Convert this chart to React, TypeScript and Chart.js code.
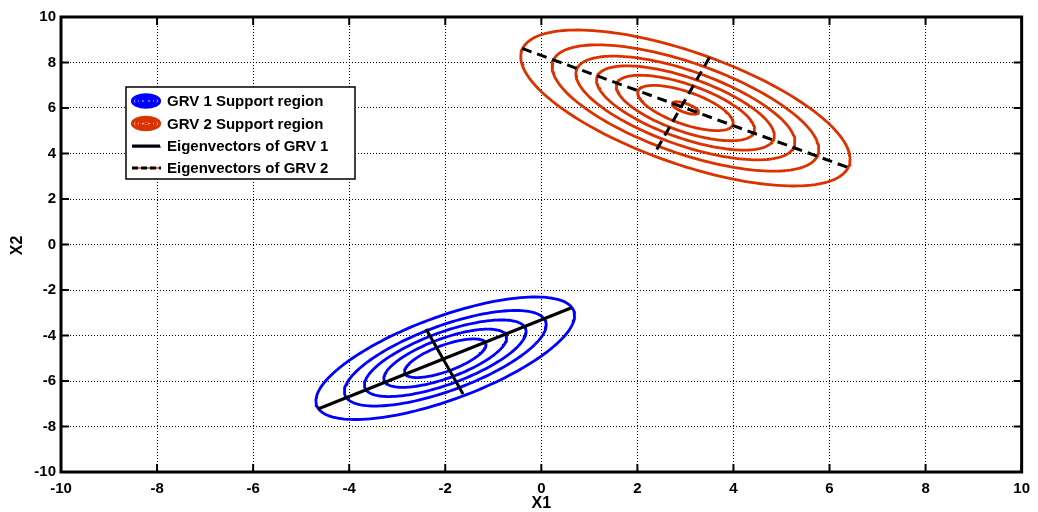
import { useEffect, useRef } from "react";
import { Chart, registerables } from "chart.js";

Chart.register(...registerables);

const FONT = '"Liberation Sans", Arial, Helvetica, sans-serif';

// Axis range shared by X1 and X2
const axisMin = -10;
const axisMax = 10;
const tickStep = 2;
const tickValues = [-10, -8, -6, -4, -2, 0, 2, 4, 6, 8, 10];

// GRV 1 support region: centre, half-axis vectors of the outer contour, relative size of each contour
const grv1Center = [-2, -5];
const grv1MajorAxis = [2.48, 2.48];
const grv1MinorAxis = [1.05, -1.05];
const grv1Levels = [1, 0.78, 0.625, 0.475, 0.315];

// GRV 2 support region
const grv2Center = [3, 6];
const grv2MajorAxis = [3.12, -3.12];
const grv2MinorAxis = [1.42, 1.42];
const grv2Levels = [1, 0.81, 0.665, 0.54, 0.42, 0.29, 0.08];

// Eigenvector segments (end points in X1/X2 units)
const grv1EigMajor = [[-4.65, -7.23], [0.63, -2.78]];
const grv1EigMinor = [[-2.4, -3.71], [-1.63, -6.57]];
const grv2EigMajor = [[-0.4, 8.62], [6.39, 3.38]];
const grv2EigMinor = [[3.5, 8.22], [2.35, 3.98]];

const legendLabels = [
  "GRV 1 Support region",
  "GRV 2 Support region",
  "Eigenvectors of GRV 1",
  "Eigenvectors of GRV 2",
];

const BLUE = "#0000ff";
const RED = "#db3300";

function contour(center: number[], major: number[], minor: number[], s: number) {
  const pts: { x: number; y: number }[] = [];
  const n = 160;
  for (let i = 0; i <= n; i++) {
    const t = (i / n) * Math.PI * 2;
    const c = Math.cos(t);
    const sn = Math.sin(t);
    pts.push({
      x: center[0] + s * (c * major[0] + sn * minor[0]),
      y: center[1] + s * (c * major[1] + sn * minor[1]),
    });
  }
  return pts;
}

function segment(p: number[][]) {
  return p.map(([x, y]) => ({ x, y }));
}

function drawRings(ctx: CanvasRenderingContext2D, cx: number, cy: number, color: string) {
  ctx.strokeStyle = color;
  ctx.lineWidth = 3.2;
  for (const rx of [13.5, 9.5, 5.8]) {
    ctx.beginPath();
    ctx.ellipse(cx, cy, rx, rx * 0.45, 0, 0, Math.PI * 2);
    ctx.stroke();
  }
  ctx.lineWidth = 2.2;
  ctx.beginPath();
  ctx.moveTo(cx - 2.5, cy);
  ctx.lineTo(cx + 2.5, cy);
  ctx.stroke();
}

const framePlugin = {
  id: "frame",
  afterDraw(chart: any) {
    const { ctx, chartArea: a, scales } = chart;
    const xs = scales.x;
    const ys = scales.y;
    ctx.save();

    // inward tick marks on all four sides
    ctx.strokeStyle = "#000";
    ctx.lineWidth = 2;
    ctx.setLineDash([]);
    ctx.beginPath();
    for (const v of tickValues) {
      const px = xs.getPixelForValue(v);
      ctx.moveTo(px, a.bottom);
      ctx.lineTo(px, a.bottom - 8);
      ctx.moveTo(px, a.top);
      ctx.lineTo(px, a.top + 8);
      const py = ys.getPixelForValue(v);
      ctx.moveTo(a.left, py);
      ctx.lineTo(a.left + 8, py);
      ctx.moveTo(a.right, py);
      ctx.lineTo(a.right - 8, py);
    }
    ctx.stroke();

    // axes box
    ctx.lineWidth = 3;
    ctx.strokeRect(a.left, a.top, a.right - a.left, a.bottom - a.top);

    // axis titles
    ctx.fillStyle = "#000";
    ctx.font = `bold 16px ${FONT}`;
    ctx.textAlign = "center";
    ctx.textBaseline = "middle";
    ctx.fillText("X1", (a.left + a.right) / 2, 504);
    ctx.save();
    ctx.translate(18, (a.top + a.bottom) / 2 + 1);
    ctx.rotate(-Math.PI / 2);
    ctx.fillText("X2", 0, 0);
    ctx.restore();

    // legend
    const lx = 126;
    const ly = 87;
    const lw = 229;
    const lh = 92;
    ctx.fillStyle = "#fff";
    ctx.fillRect(lx, ly, lw, lh);
    ctx.strokeStyle = "#000";
    ctx.lineWidth = 1.5;
    ctx.strokeRect(lx, ly, lw, lh);

    const rows = [101, 123.5, 146, 168];
    const iconX = 146;
    drawRings(ctx, iconX, rows[0], BLUE);
    drawRings(ctx, iconX, rows[1], RED);

    ctx.lineWidth = 1;
    ctx.strokeStyle = BLUE;
    ctx.beginPath();
    ctx.moveTo(132, rows[2] + 1);
    ctx.lineTo(161, rows[2] + 1);
    ctx.stroke();
    ctx.lineWidth = 3;
    ctx.strokeStyle = "#000";
    ctx.beginPath();
    ctx.moveTo(132, rows[2]);
    ctx.lineTo(160, rows[2]);
    ctx.stroke();

    ctx.lineWidth = 1.5;
    ctx.strokeStyle = RED;
    ctx.beginPath();
    ctx.moveTo(132, rows[3]);
    ctx.lineTo(161, rows[3]);
    ctx.stroke();
    ctx.lineWidth = 3;
    ctx.strokeStyle = "#000";
    ctx.setLineDash([6, 3]);
    ctx.beginPath();
    ctx.moveTo(132, rows[3]);
    ctx.lineTo(161, rows[3]);
    ctx.stroke();
    ctx.setLineDash([]);

    ctx.fillStyle = "#000";
    ctx.font = `bold 15px ${FONT}`;
    ctx.textAlign = "left";
    ctx.textBaseline = "middle";
    legendLabels.forEach((t, i) => ctx.fillText(t, 167, rows[i] + 1));

    ctx.restore();
  },
};

export default function App() {
  const canvasRef = useRef<HTMLCanvasElement | null>(null);

  useEffect(() => {
    const canvas = canvasRef.current;
    if (!canvas) return;

    const lineSet = (pts: number[][], dashed: boolean) => ({
      data: segment(pts),
      showLine: true,
      borderColor: "#000",
      borderWidth: 3,
      borderDash: dashed ? [10, 6] : [],
      borderCapStyle: "butt" as const,
      pointRadius: 0,
      fill: false,
    });
    const ringSet = (center: number[], major: number[], minor: number[], s: number, color: string) => ({
      data: contour(center, major, minor, s),
      showLine: true,
      borderColor: color,
      borderWidth: 2.8,
      borderCapStyle: "round" as const,
      borderJoinStyle: "round" as const,
      pointRadius: 0,
      fill: false,
      tension: 0,
    });

    const datasets: any[] = [
      lineSet(grv1EigMajor, false),
      lineSet(grv1EigMinor, false),
      lineSet(grv2EigMajor, true),
      lineSet(grv2EigMinor, true),
      ...grv1Levels.map((s) => ringSet(grv1Center, grv1MajorAxis, grv1MinorAxis, s, BLUE)),
      ...grv2Levels.map((s) => ringSet(grv2Center, grv2MajorAxis, grv2MinorAxis, s, RED)),
    ];

    const tickFont = { family: FONT, size: 15, weight: "bold" as const };

    const chart = new Chart(canvas, {
      type: "scatter",
      data: { datasets },
      options: {
        animation: false,
        responsive: false,
        devicePixelRatio: 1,
        layout: { padding: { top: 17, right: 12, left: 0, bottom: 0 } },
        plugins: { legend: { display: false }, tooltip: { enabled: false } },
        scales: {
          x: {
            type: "linear",
            min: axisMin,
            max: axisMax,
            afterFit: (s: any) => {
              s.height = 40;
            },
            ticks: { stepSize: tickStep, font: tickFont, color: "#000", padding: 8, maxRotation: 0 },
            grid: { color: "#000", lineWidth: 1, drawTicks: false },
            border: { display: false, dash: [1, 2] },
          },
          y: {
            type: "linear",
            min: axisMin,
            max: axisMax,
            afterFit: (s: any) => {
              s.width = 61;
            },
            ticks: { stepSize: tickStep, font: tickFont, color: "#000", padding: 5 },
            grid: { color: "#000", lineWidth: 1, drawTicks: false },
            border: { display: false, dash: [1, 2] },
          },
        },
      },
      plugins: [framePlugin],
    });

    return () => chart.destroy();
  }, []);

  return (
    <div style={{ position: "fixed", left: 0, top: 0, width: 1038, height: 512, background: "#fff" }}>
      <canvas ref={canvasRef} width={1038} height={512} style={{ display: "block" }} />
    </div>
  );
}
